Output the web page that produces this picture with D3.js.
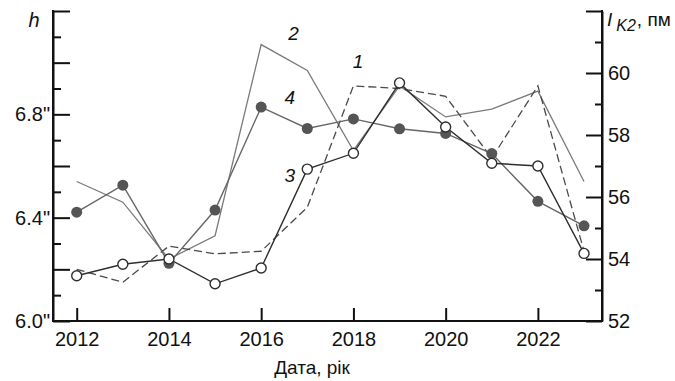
<!DOCTYPE html>
<html>
<head>
<meta charset="utf-8">
<script src="https://cdn.jsdelivr.net/npm/d3@7"></script>
<style>
  html, body { margin: 0; padding: 0; background: #fff; }
  svg { display: block; font-family: "Liberation Sans", Arial, sans-serif; }
</style>
</head>
<body>
<svg id="chart" width="675" height="381"></svg>
<script>
// Years of observation
const years = [2012, 2013, 2014, 2015, 2016, 2017, 2018, 2019, 2020, 2021, 2022, 2023];

// Curves 1 and 2 — left scale, h (arcsec)
const series1 = [6.20, 6.15, 6.29, 6.26, 6.27, 6.44, 6.91, 6.90, 6.87, 6.63, 6.91, 6.27];
const series2 = [6.54, 6.46, 6.24, 6.33, 7.07, 6.97, 6.66, 6.91, 6.79, 6.82, 6.89, 6.54];

// Curves 3 and 4 — right scale, I_K2 (pm)
const series3 = [53.46, 53.83, 54.00, 53.20, 53.71, 56.90, 57.41, 59.68, 58.26, 57.09, 57.00, 54.18];
const series4 = [55.51, 56.38, 53.86, 55.58, 58.90, 58.21, 58.52, 58.20, 58.05, 57.40, 55.86, 55.07];

// Axis ticks
const xTicks = [2012, 2014, 2016, 2018, 2020, 2022];
const hMajor = [6.0, 6.2, 6.4, 6.6, 6.8, 7.0, 7.2];
const hMinor = [6.1, 6.3, 6.5, 6.7, 6.9, 7.1];
const hLabels = [6.0, 6.4, 6.8];
const iMajor = [52, 54, 56, 58, 60, 62];
const iMinor = [53, 55, 57, 59, 61];
const iLabels = [52, 54, 56, 58, 60];

const svg = d3.select("#chart");
const plotLeft = 53, plotRight = 602, plotTop = 11, plotBottom = 321;

const x = d3.scaleLinear().domain([2011.486, 2023.39]).range([plotLeft, plotRight]);
const yH = d3.scaleLinear().domain([6.0, 7.2]).range([plotBottom, plotTop]);
const yI = d3.scaleLinear().domain([52, 62]).range([plotBottom, plotTop]);

const fontSize = 20;

// ---- axes ----
function styleAxis(g) {
  g.selectAll(".domain").attr("stroke", "#111").attr("stroke-width", 2);
  g.selectAll(".tick line").attr("stroke", "#111").attr("stroke-width", 2);
  g.selectAll(".tick text").attr("fill", "#111").attr("font-size", fontSize)
    .attr("font-family", "'Liberation Sans', Arial, sans-serif");
}

// left scale
svg.append("g").attr("transform", `translate(${plotLeft},0)`)
  .call(d3.axisLeft(yH).tickValues(hMinor).tickSize(-8).tickSizeOuter(0).tickFormat(""))
  .call(styleAxis);
svg.append("g").attr("transform", `translate(${plotLeft},0)`)
  .call(d3.axisLeft(yH).tickValues(hMajor).tickSize(-17).tickSizeOuter(0).tickPadding(3)
    .tickFormat(d => hLabels.some(v => Math.abs(v - d) < 1e-6) ? d.toFixed(1) + '"' : ""))
  .call(styleAxis)
  .call(g => g.select(".domain").attr("d", `M0,${plotTop - 1}V${plotBottom + 1}`));

// right scale
svg.append("g").attr("transform", `translate(${plotRight},0)`)
  .call(d3.axisRight(yI).tickValues(iMinor).tickSize(-7).tickSizeOuter(0).tickFormat(""))
  .call(styleAxis);
svg.append("g").attr("transform", `translate(${plotRight},0)`)
  .call(d3.axisRight(yI).tickValues(iMajor).tickSize(-16).tickSizeOuter(0).tickPadding(6)
    .tickFormat(d => iLabels.includes(d) ? String(d) : ""))
  .call(styleAxis)
  .call(g => g.select(".domain").attr("d", `M0,${plotTop - 1}V${plotBottom + 1}`));

// bottom scale
svg.append("g").attr("transform", `translate(0,${plotBottom})`)
  .call(d3.axisBottom(x).tickValues(xTicks).tickSize(-13).tickSizeOuter(0).tickPadding(11)
    .tickFormat(d3.format("d")))
  .call(styleAxis)
  .call(g => g.select(".domain").attr("d", `M${plotLeft - 1},0H${plotRight + 1}`));

// ---- axis titles ----
svg.append("text").attr("x", 34).attr("y", 27).attr("text-anchor", "middle")
  .attr("font-size", 20).attr("font-style", "italic").attr("fill", "#111").text("h");

const iTitle = svg.append("text").attr("x", 607).attr("y", 26).attr("fill", "#111").attr("font-size", 19);
iTitle.append("tspan").attr("font-style", "italic").text("I");
iTitle.append("tspan").attr("font-style", "italic").attr("font-size", 16).attr("dx", 4).attr("dy", 5).text("K2");
iTitle.append("tspan").attr("dy", -5).attr("dx", 1).text(", пм");

svg.append("text").attr("x", 312).attr("y", 374).attr("text-anchor", "middle")
  .attr("font-size", 19).attr("fill", "#111").text("Дата, рік");

// ---- curves ----
const lineH = d3.line().x((d, i) => x(years[i])).y(d => yH(d));
const lineI = d3.line().x((d, i) => x(years[i])).y(d => yI(d));

svg.append("path").datum(series2).attr("d", lineH)
  .attr("fill", "none").attr("stroke", "#7a7a7a").attr("stroke-width", 1.3);

svg.append("path").datum(series1).attr("d", lineH)
  .attr("fill", "none").attr("stroke", "#4a4a4a").attr("stroke-width", 1.3)
  .attr("stroke-dasharray", "8,4");

svg.append("path").datum(series4).attr("d", lineI)
  .attr("fill", "none").attr("stroke", "#666").attr("stroke-width", 1.4);

svg.append("path").datum(series3).attr("d", lineI)
  .attr("fill", "none").attr("stroke", "#2e2e2e").attr("stroke-width", 1.4);

svg.append("g").selectAll("circle").data(series4).join("circle")
  .attr("cx", (d, i) => x(years[i])).attr("cy", d => yI(d)).attr("r", 5.5)
  .attr("fill", "#555").attr("stroke", "none");

svg.append("g").selectAll("circle").data(series3).join("circle")
  .attr("cx", (d, i) => x(years[i])).attr("cy", d => yI(d)).attr("r", 5)
  .attr("fill", "#fff").attr("stroke", "#2e2e2e").attr("stroke-width", 1.4);

// ---- curve numbers ----
const curveLabels = [
  { text: "1", xv: 2018.1, yv: 60.15 },
  { text: "2", xv: 2016.7, yv: 61.05 },
  { text: "3", xv: 2016.62, yv: 56.5 },
  { text: "4", xv: 2016.62, yv: 59.0 }
];
svg.append("g").selectAll("text").data(curveLabels).join("text")
  .attr("x", d => x(d.xv)).attr("y", d => yI(d.yv))
  .attr("text-anchor", "middle").attr("font-size", 19).attr("font-style", "italic")
  .attr("fill", "#111").text(d => d.text);
</script>
</body>
</html>
